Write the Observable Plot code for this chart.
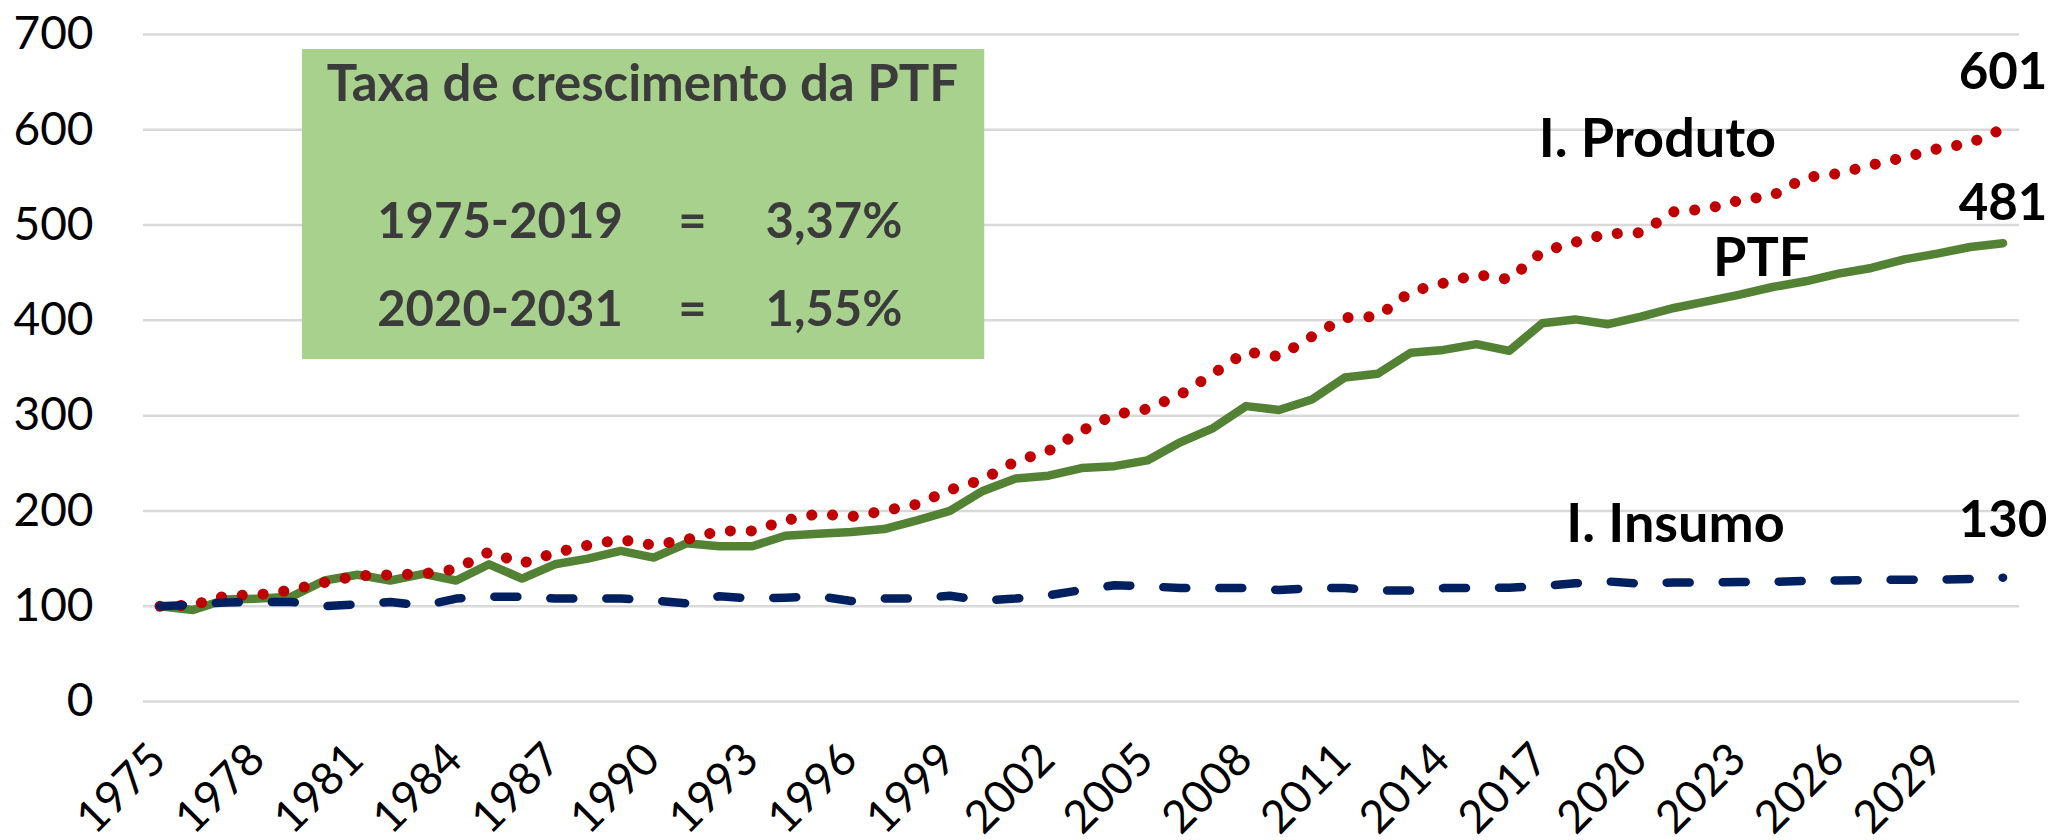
<!DOCTYPE html>
<html><head><meta charset="utf-8">
<script src="https://cdn.jsdelivr.net/npm/d3@7"></script>
<script src="https://cdn.jsdelivr.net/npm/@observablehq/plot@0.6"></script>
<style>
html,body{margin:0;padding:0;background:#fff;}
#chart svg{display:block;overflow:visible;}
</style></head><body><div id="chart"></div>
<script>
const years = [1975,1976,1977,1978,1979,1980,1981,1982,1983,1984,1985,1986,1987,1988,1989,1990,1991,1992,1993,1994,1995,1996,1997,1998,1999,2000,2001,2002,2003,2004,2005,2006,2007,2008,2009,2010,2011,2012,2013,2014,2015,2016,2017,2018,2019,2020,2021,2022,2023,2024,2025,2026,2027,2028,2029,2030,2031];
const produto = [100,101,111,112,117,125,132,133,134,139,157,145,156,164,170,164,170,179,179,190,197,194,200,207,222,233,252,263,284,301,307,322,344,367,362,383,403,404,430,439,448,443,472,482,491,492,514,517,526,531,550,554,563,571,580,586,601];
const ptf = [100,96,107,108,110,127,133,127,134,127,144,129,144,150,158,151,166,163,163,174,176,178,181,190,200,221,234,237,245,247,253,272,287,310,306,317,340,344,366,369,375,368,397,401,396,404,413,420,427,435,441,449,455,464,470,477,481];
const insumo = [100,101.5,104,104.5,104.5,100,102,104.5,100.5,108,110,110,108,108,108,106,103,110.5,108,109,110.5,105.5,108,108,111,106,108,111.5,117,122,121,119,119,119,117,119,119,116.5,116.5,119,119,119.5,121,124,126,123.5,125,125,125.5,125.5,126.5,127,127.5,127.8,128,128.5,130];
const yTicks = [0,100,200,300,400,500,600,700];
const xTicks = [1975,1978,1981,1984,1987,1990,1993,1996,1999,2002,2005,2008,2011,2014,2017,2020,2023,2026,2029];
const seriesNames = ["I. Produto","PTF","I. Insumo"];
const endLabels = ["601","481","130"];
const boxTitle = "Taxa de crescimento da PTF";
const boxPeriods = ["1975-2019","2020-2031"];
const boxRates = ["3,37%","1,55%"];

const rows = years.map((year,i)=>({year, produto: produto[i], ptf: ptf[i], insumo: insumo[i]}));
const last = rows[rows.length-1];
const font = "Lato, 'Noto Sans', sans-serif";
const boxText = "#3b3b3b";

const chart = Plot.plot({
  width: 2056, height: 840,
  marginTop: 34, marginBottom: 139, marginLeft: 143, marginRight: 37,
  x: {domain: [1974.5, 2031.5], axis: null},
  y: {domain: [0, 700], axis: null},
  style: {fontFamily: font, background: "#fff", color: "#000"},
  marks: [
    Plot.gridY(yTicks, {stroke: "#d9d9d9", strokeOpacity: 1, strokeWidth: 2.5}),
    Plot.axisY({ticks: yTicks, tickSize: 0, tickPadding: 50, fontSize: 46, label: null, fill: "#000"}),
    Plot.text(xTicks, {x: d => d, text: d => String(d), frameAnchor: "bottom", rotate: -45, textAnchor: "end", lineAnchor: "top", dy: 38, dx: -14, fontSize: 45, fill: "#000"}),
    // annotation box
    Plot.rect([boxTitle], {x1: 1979.33, x2: 2000.06, y1: 358.9, y2: 684.2, fill: "#A9D18E"}),
    Plot.text([boxTitle], {x: 1989.66, y: 629.7, text: d => d, lineAnchor: "bottom", textAnchor: "middle", fontSize: 51, fontWeight: 700, fill: boxText}),
    Plot.text(boxPeriods, {x: 1981.6, y: (d, i) => [486.7, 394.6][i], text: d => d, lineAnchor: "bottom", textAnchor: "start", fontSize: 49, fontWeight: 700, fill: boxText}),
    Plot.text(boxPeriods, {x: 1991.18, y: (d, i) => [486.7, 394.6][i], text: () => "=", lineAnchor: "bottom", textAnchor: "middle", fontSize: 49, fontWeight: 700, fill: boxText}),
    Plot.text(boxRates, {x: 1993.4, y: (d, i) => [486.7, 394.6][i], text: d => d, lineAnchor: "bottom", textAnchor: "start", fontSize: 49, fontWeight: 700, fill: boxText}),
    // series
    Plot.line(rows, {x: "year", y: "ptf", stroke: "#548235", strokeWidth: 8.5, strokeLinejoin: "round", strokeLinecap: "round"}),
    Plot.line(rows, {x: "year", y: "produto", stroke: "#C00000", strokeWidth: 11, strokeDasharray: "0.1 20.8", strokeLinecap: "round"}),
    Plot.line(rows, {x: "year", y: "insumo", stroke: "#002060", strokeWidth: 8.5, strokeDasharray: "23 33", strokeLinecap: "round", strokeLinejoin: "round"}),
    // end value labels
    Plot.text([last], {x: "year", y: "produto", text: () => endLabels[0], dy: -40, lineAnchor: "bottom", textAnchor: "middle", fontSize: 51, fontWeight: 700, fill: "#000"}),
    Plot.text([last], {x: "year", y: "ptf", text: () => endLabels[1], dy: -23, lineAnchor: "bottom", textAnchor: "middle", fontSize: 51, fontWeight: 700, fill: "#000"}),
    Plot.text([last], {x: "year", y: "insumo", text: () => endLabels[2], dy: -41, lineAnchor: "bottom", textAnchor: "middle", fontSize: 51, fontWeight: 700, fill: "#000"}),
    // series names
    Plot.text([seriesNames[0]], {x: 2020.5, y: 571, text: d => d, lineAnchor: "bottom", textAnchor: "middle", fontSize: 54, fontWeight: 700, fill: "#000"}),
    Plot.text([seriesNames[1]], {x: 2023.65, y: 447, text: d => d, lineAnchor: "bottom", textAnchor: "middle", fontSize: 54, fontWeight: 700, fill: "#000"}),
    Plot.text([seriesNames[2]], {x: 2021.05, y: 167, text: d => d, lineAnchor: "bottom", textAnchor: "middle", fontSize: 54, fontWeight: 700, fill: "#000"})
  ]
});
document.getElementById("chart").appendChild(chart);
</script></body></html>
